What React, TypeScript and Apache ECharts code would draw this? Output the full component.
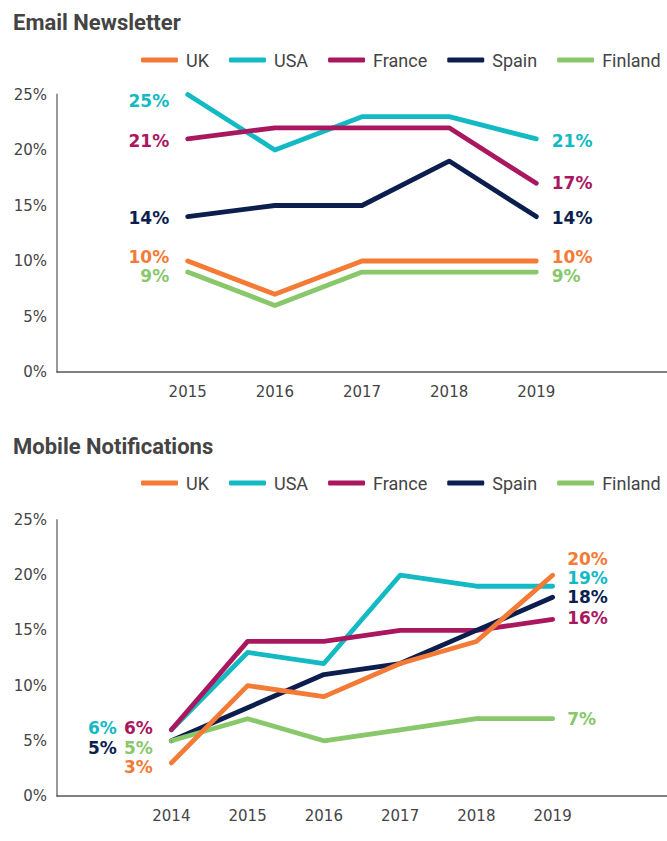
import React, { useEffect, useRef } from "react";
import * as echarts from "echarts";

const countries = ["UK", "USA", "France", "Spain", "Finland"];
const colors = ["#F47B36", "#13B9C3", "#A9185F", "#0B1E4E", "#89C76B"];

const emailYears = ["2015", "2016", "2017", "2018", "2019"];
const emailUK = [10, 7, 10, 10, 10];
const emailUSA = [25, 20, 23, 23, 21];
const emailFrance = [21, 22, 22, 22, 17];
const emailSpain = [14, 15, 15, 19, 14];
const emailFinland = [9, 6, 9, 9, 9];

const mobileYears = ["2014", "2015", "2016", "2017", "2018", "2019"];
const mobileUK = [3, 10, 9, 12, 14, 20];
const mobileUSA = [6, 13, 12, 20, 19, 19];
const mobileFrance = [6, 14, 14, 15, 15, 16];
const mobileSpain = [5, 8, 11, 12, 15, 18];
const mobileFinland = [5, 7, 5, 6, 7, 7];

const yTicks = [0, 5, 10, 15, 20, 25];

// label nudges [x, y] for first and last labels (style only)
const emailStartNudge = [[0, -4], [0, 6], [0, 2], [0, 1], [0, 4]];
const emailEndNudge = [[0, -4], [0, 2], [0, 0], [0, 1], [0, 4]];
const mobileStartNudge = [[0, 4], [-36, -2], [0, -2], [-36, 7], [0, 7]];
const mobileEndNudge = [[0, -16], [0, -8], [0, -1], [0, 0], [0, 0]];

const NUM_FONT = "'DejaVu Sans', sans-serif";
const COND_FONT = "Roboto, sans-serif";

function buildSeries(
  values: number[][],
  idx: number,
  startNudge: number[][],
  endNudge: number[][],
  leftDist: number,
  rightDist: number
) {
  return values.map((vals, i) => {
    const data: any[] = [null];
    vals.forEach((v, j) => {
      const isFirst = j === 0;
      const isLast = j === vals.length - 1;
      if (isFirst || isLast) {
        const n = isFirst ? startNudge[i] : endNudge[i];
        data.push({
          value: v,
          label: {
            show: true,
            position: isFirst ? "left" : "right",
            distance: isFirst ? leftDist : rightDist,
            offset: n,
            formatter: "{c}%",
            color: colors[i],
            fontFamily: NUM_FONT,
            fontWeight: "bold",
            fontSize: 17,
            lineHeight: 14,
          },
        });
      } else {
        data.push(v);
      }
    });
    data.push(null);
    return {
      name: countries[i],
      type: "line",
      xAxisIndex: idx,
      yAxisIndex: idx,
      data,
      showSymbol: true,
      symbol: "circle",
      symbolSize: 1,
      connectNulls: false,
      lineStyle: { width: 4.8, color: colors[i], cap: "round", join: "round" },
      itemStyle: { color: colors[i] },
      emphasis: { disabled: true },
      z: 2 + (i === 0 ? 5 : 0),
    };
  });
}

function legendCfg(top: number) {
  return {
    top,
    left: 141,
    width: 526,
    padding: 0,
    itemWidth: 37,
    itemHeight: 5,
    itemGap: 20,
    icon: "roundRect",
    data: countries,
    textStyle: { fontFamily: COND_FONT, fontSize: 18, color: "#444", padding: [0, 0, 0, 3] },
    selectedMode: false,
  };
}

function xAxisCfg(years: string[], gridIndex: number) {
  return {
    type: "category",
    gridIndex,
    data: ["", ...years, ""],
    boundaryGap: true,
    axisLine: { lineStyle: { color: "#555", width: 1.5 } },
    axisTick: { show: false },
    axisLabel: { fontFamily: NUM_FONT, fontSize: 15, color: "#444", margin: 12 },
  };
}

function yAxisCfg(gridIndex: number) {
  return {
    type: "value",
    gridIndex,
    min: yTicks[0],
    max: yTicks[yTicks.length - 1],
    interval: 5,
    axisLine: { show: true, lineStyle: { color: "#999", width: 2 } },
    axisTick: { show: false },
    splitLine: { show: false },
    axisLabel: {
      formatter: "{value}%",
      fontFamily: NUM_FONT,
      fontSize: 15,
      color: "#444",
      margin: 10,
    },
  };
}

export default function App() {
  const ref = useRef<HTMLDivElement>(null);
  useEffect(() => {
    document.body.style.margin = "0";
    if (!ref.current) return;
    const chart = echarts.init(ref.current, undefined, { renderer: "svg" });
    const emailVals = [emailUK, emailUSA, emailFrance, emailSpain, emailFinland];
    const mobileVals = [mobileUK, mobileUSA, mobileFrance, mobileSpain, mobileFinland];
    chart.setOption({
      animation: false,
      backgroundColor: "#fff",
      title: [
        {
          text: "Email Newsletter",
          left: 8,
          top: 6,
          textStyle: { fontFamily: COND_FONT, fontWeight: "bold", fontSize: 22, color: "#444" },
        },
        {
          text: "Mobile Notifications",
          left: 8,
          top: 430,
          textStyle: { fontFamily: COND_FONT, fontWeight: "bold", fontSize: 22, color: "#444" },
        },
      ],
      legend: [legendCfg(51), legendCfg(474)],
      grid: [
        { left: 57, right: 0, top: 94.5, height: 277.5, containLabel: false },
        { left: 57, right: 0, top: 520, height: 276, containLabel: false },
      ],
      xAxis: [xAxisCfg(emailYears, 0), xAxisCfg(mobileYears, 1)],
      yAxis: [yAxisCfg(0), yAxisCfg(1)],
      series: [
        ...buildSeries(emailVals, 0, emailStartNudge, emailEndNudge, 18, 15),
        ...buildSeries(mobileVals, 1, mobileStartNudge, mobileEndNudge, 18, 14),
      ],
    });
    return () => chart.dispose();
  }, []);
  return <div ref={ref} style={{ width: 667, height: 841 }} />;
}
